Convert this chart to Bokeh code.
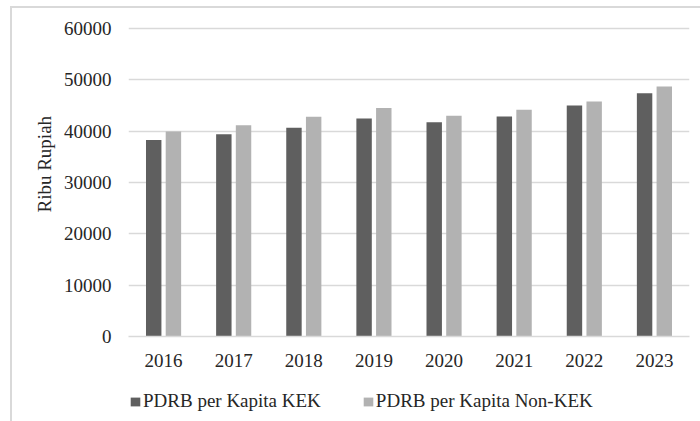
from bokeh.plotting import figure
from bokeh.layouts import column
from bokeh.models import (ColumnDataSource, FactorRange, Range1d, FixedTicker,
                          Legend, LegendItem, Title)
from bokeh.transform import dodge
from bokeh.embed import file_html
from bokeh.resources import INLINE

years = ["2016", "2017", "2018", "2019", "2020", "2021", "2022", "2023"]
kek = [38300, 39400, 40650, 42450, 41750, 42850, 45000, 47400]
non_kek = [39950, 41150, 42800, 44500, 43000, 44150, 45800, 48700]
y_ticks = [0, 10000, 20000, 30000, 40000, 50000, 60000]
series_names = ["PDRB per Kapita KEK", "PDRB per Kapita Non-KEK"]
y_title = "Ribu Rupiah"

FONT = "Liberation Serif"
TXT = "#262626"
GRID = "#d9d9d9"
DARK = "#5f5f5f"
LIGHT = "#b2b2b2"

src = ColumnDataSource(dict(year=years, kek=kek, non=non_kek))

W, H1, H2 = 688, 372, 41
p = figure(width=W, height=H1, output_backend="svg", toolbar_location=None,
           x_range=FactorRange(*years, range_padding=0),
           y_range=Range1d(0, 60390),
           min_border_left=116, min_border_right=11,
           min_border_top=18, min_border_bottom=44)
p.outline_line_color = None
p.background_fill_color = "white"
p.border_fill_color = "white"

r1 = p.vbar(x=dodge("year", -0.1405, range=p.x_range), top="kek", width=0.22,
            source=src, fill_color=DARK, line_color=None)
r2 = p.vbar(x=dodge("year", 0.1405, range=p.x_range), top="non", width=0.22,
            source=src, fill_color=LIGHT, line_color=None)

p.yaxis.ticker = FixedTicker(ticks=y_ticks)
p.yaxis.axis_line_color = None
p.yaxis.major_tick_line_color = None
p.yaxis.minor_tick_line_color = None
p.yaxis.major_tick_in = 0
p.yaxis.major_tick_out = 0
p.yaxis.major_label_standoff = 17
p.yaxis.major_label_text_font = FONT
p.yaxis.major_label_text_font_size = "19px"
p.yaxis.major_label_text_color = TXT

p.xaxis.axis_line_color = GRID
p.xaxis.axis_line_width = 1.5
p.xaxis.major_tick_line_color = None
p.xaxis.minor_tick_line_color = None
p.xaxis.major_tick_in = 0
p.xaxis.major_tick_out = 0
p.xaxis.major_label_standoff = 17
p.xaxis.major_label_text_font = FONT
p.xaxis.major_label_text_font_size = "19px"
p.xaxis.major_label_text_color = TXT

p.xgrid.grid_line_color = None
p.ygrid.ticker = FixedTicker(ticks=y_ticks)
p.ygrid.grid_line_color = GRID
p.ygrid.grid_line_width = 1.5

ytitle = Title(text=y_title, align="left", offset=124, standoff=12,
               text_font=FONT, text_font_size="19px", text_font_style="normal",
               text_color=TXT)
p.add_layout(ytitle, "left")

# legend strip below the chart (swatches come from zero-size bars out of view)
q = figure(width=W, height=H2, output_backend="svg", toolbar_location=None,
           x_range=FactorRange(*years, range_padding=0), y_range=Range1d(-2, -1),
           x_axis_type=None, y_axis_type=None,
           min_border_left=0, min_border_right=0,
           min_border_top=0, min_border_bottom=0)
q.outline_line_color = None
q.grid.visible = False
q.background_fill_color = "white"
q.border_fill_color = "white"
lr1 = q.vbar(x="year", top="kek", bottom="kek", width=0, source=src,
             fill_color=DARK, line_color=None)
lr2 = q.vbar(x="year", top="non", bottom="non", width=0, source=src,
             fill_color=LIGHT, line_color=None)

legend = Legend(items=[LegendItem(label=series_names[0], renderers=[lr1]),
                       LegendItem(label=series_names[1], renderers=[lr2])],
                location=(1, 9), orientation="horizontal",
                glyph_width=12, glyph_height=11, label_standoff=2, spacing=41,
                padding=0, margin=0, border_line_color=None,
                background_fill_alpha=0,
                label_text_font=FONT, label_text_font_size="19px",
                label_text_color=TXT)
q.add_layout(legend, "center")

layout = column(p, q, spacing=0)
layout.styles = {"border-left": "2px solid #d9d9d9", "border-top": "2px solid #d9d9d9",
                 "margin-left": "10px", "margin-top": "6px"}

open("out.html", "w").write(file_html(layout, INLINE))
